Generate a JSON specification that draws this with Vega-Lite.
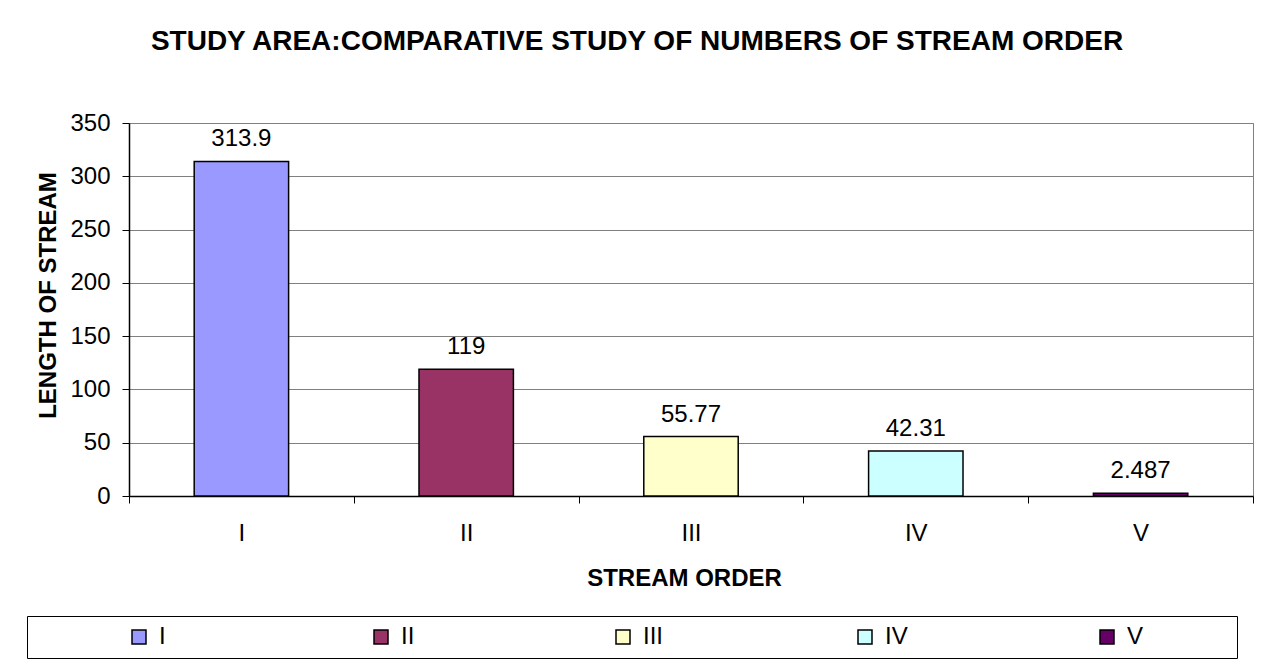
{
  "$schema": "https://vega.github.io/schema/vega-lite/v6.json",
  "width": 1124,
  "height": 373,
  "autosize": {"type": "none"},
  "padding": {"left": 129, "top": 123, "right": 16, "bottom": 172},
  "background": "white",
  "title": {
    "text": "STUDY AREA:COMPARATIVE STUDY OF NUMBERS OF STREAM ORDER",
    "fontSize": 28,
    "font": "Liberation Sans",
    "fontWeight": "bold",
    "color": "black",
    "anchor": "middle",
    "dx": -54,
    "baseline": "alphabetic",
    "offset": 33
  },
  "config": {
    "view": {"stroke": "#808080", "strokeWidth": 1},
    "font": "Liberation Sans"
  },
  "data": {
    "values": [
      {"order": "I", "value": 313.9},
      {"order": "II", "value": 119},
      {"order": "III", "value": 55.77},
      {"order": "IV", "value": 42.31},
      {"order": "V", "value": 2.487}
    ]
  },
  "encoding": {
    "x": {
      "field": "order",
      "type": "nominal",
      "sort": null,
      "scale": {"paddingInner": 0, "paddingOuter": 0},
      "axis": {
        "title": "STREAM ORDER",
        "tickBand": "extent",
        "grid": false,
        "labelAngle": 0,
        "labelFontSize": 24,
        "labelFont": "Liberation Sans",
        "labelColor": "black",
        "labelBaseline": "alphabetic",
        "labelPadding": 37,
        "tickSize": 7,
        "tickColor": "black",
        "tickWidth": 1,
        "domainColor": "black",
        "domainWidth": 1.5,
        "titleFontSize": 24,
        "titleFont": "Liberation Sans",
        "titleFontWeight": "bold",
        "titleColor": "black",
        "titleX": 555,
        "titleY": 89,
        "titleBaseline": "alphabetic",
        "titleAlign": "center"
      }
    }
  },
  "layer": [
    {
      "mark": {"type": "bar", "width": {"band": 0.42}, "stroke": "black", "strokeWidth": 1.5},
      "encoding": {
        "y": {
          "field": "value",
          "type": "quantitative",
          "scale": {"domain": [0, 350], "nice": false},
          "axis": {
            "title": "LENGTH OF STREAM",
            "values": [0, 50, 100, 150, 200, 250, 300, 350],
            "grid": true,
            "gridColor": "#808080",
            "gridWidth": 1,
            "domainColor": "black",
            "domainWidth": 1.5,
            "tickColor": "black",
            "tickSize": 7,
            "labelFontSize": 24,
            "labelFont": "Liberation Sans",
            "labelColor": "black",
            "labelPadding": 12,
            "titleFontSize": 24,
            "titleFont": "Liberation Sans",
            "titleFontWeight": "bold",
            "titleColor": "black",
            "titleAngle": -90,
            "titleX": -74,
            "titleY": 172,
            "titleAlign": "center",
            "titleBaseline": "alphabetic"
          }
        },
        "color": {
          "field": "order",
          "type": "nominal",
          "scale": {
            "domain": ["I", "II", "III", "IV", "V"],
            "range": ["#9999FF", "#993366", "#FFFFCC", "#CCFFFF", "#660066"]
          },
          "legend": {
            "orient": "none",
            "legendX": -102,
            "legendY": 493,
            "direction": "horizontal",
            "columns": 5,
            "gridAlign": "all",
            "title": " ",
            "titleOrient": "right",
            "titleFontSize": 1,
            "titlePadding": 85,
            "padding": 9,
            "strokeColor": "black",
            "fillColor": "white",
            "symbolType": "square",
            "symbolSize": 196,
            "symbolStrokeColor": "black",
            "symbolStrokeWidth": 1.5,
            "symbolOffset": 91,
            "labelOffset": 8,
            "labelFontSize": 24,
            "labelFont": "Liberation Sans",
            "labelColor": "black",
            "columnPadding": 96
          }
        }
      }
    },
    {
      "mark": {"type": "text", "dy": -15, "baseline": "alphabetic", "fontSize": 24, "font": "Liberation Sans", "color": "black"},
      "encoding": {
        "y": {"field": "value", "type": "quantitative"},
        "text": {"field": "value", "type": "nominal"}
      }
    }
  ]
}
